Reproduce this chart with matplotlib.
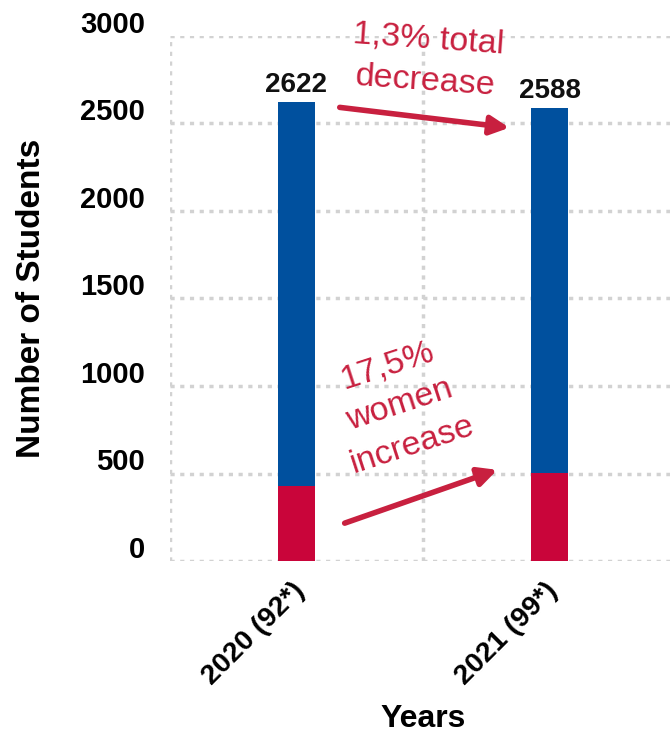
import numpy as np
import matplotlib
matplotlib.use("Agg")
import matplotlib.pyplot as plt
from matplotlib.transforms import ScaledTranslation

plt.rcParams['font.family'] = ['Liberation Sans', 'DejaVu Sans']

# data
years = ['2020 (92*)', '2021 (99*)']
total = [2622, 2588]
women = [430, 505]
men = [t - w for t, w in zip(total, women)]

BLUE = '#00509e'
RED = '#c9053a'
NOTE = '#c8203f'
GRID = '#d2d2d2'

fig = plt.figure(figsize=(6.7, 7.35), dpi=100)
ax = fig.add_axes([170 / 670, 174 / 735, 506 / 670, 525 / 735])

x = np.arange(len(years))
ax.bar(x, women, width=0.146, color=RED, zorder=3)
ax.bar(x, men, width=0.146, bottom=women, color=BLUE, zorder=3)

for xi, t in zip(x, total):
    ax.text(xi, t + 25, str(t), ha='center', va='bottom',
            fontsize=20, fontweight='bold', color='#111111')

ax.set_xlim(-0.5, 1.5)
ax.set_ylim(0, 3000)
ax.set_yticks(np.arange(0, 3001, 500))
ax.set_xticks(x)
ax.set_xticklabels(years, rotation=45, ha='right', va='top',
                   rotation_mode='anchor', fontsize=20.5, fontweight='bold')

# grid lines (horizontal at ticks, vertical between categories)
for yv in np.arange(0, 3001, 500):
    ax.axhline(yv, color=GRID, lw=2.5, ls=(0, (1.2, 1.6)), zorder=1)
for xv in [-0.5, 0.5, 1.5]:
    ax.axvline(xv, color=GRID, lw=2.5, ls=(0, (1.2, 1.6)), zorder=1)

for s in ax.spines.values():
    s.set_visible(False)
ax.tick_params(axis='both', length=0)
ax.tick_params(axis='y', pad=18, labelsize=21)
ax.tick_params(axis='x', pad=12)
for lab in ax.get_yticklabels():
    lab.set_fontweight('bold')
    lab.set_transform(lab.get_transform() + ScaledTranslation(0, 0.14, fig.dpi_scale_trans))
for lab in ax.get_xticklabels():
    lab.set_transform(lab.get_transform() + ScaledTranslation(-0.05, 0, fig.dpi_scale_trans))

ax.set_ylabel('Number of Students', fontsize=24, fontweight='bold')
ax.set_xlabel('Years', fontsize=23, fontweight='bold')
ax.yaxis.set_label_coords(-0.243, 0.5)
ax.xaxis.set_label_coords(0.5, -0.272)

# annotations
ax.text(0.516, 2860, '1,3% total\ndecrease', color=NOTE, fontsize=24.5,
        ha='center', va='center', rotation=-4, linespacing=1.45)
ax.annotate('', xy=(0.852, 2474), xytext=(0.160, 2594),
            arrowprops=dict(arrowstyle='-|>', mutation_scale=28, lw=4, color=NOTE))

ax.text(0.409, 891, '17,5%\nwomen\nincrease', color=NOTE, fontsize=24.5,
        ha='center', va='center', rotation=18, linespacing=1.45,
        rotation_mode='anchor')
ax.annotate('', xy=(0.804, 526), xytext=(0.180, 211),
            arrowprops=dict(arrowstyle='-|>', mutation_scale=28, lw=4, color=NOTE))

fig.savefig('out.png', dpi=100)
